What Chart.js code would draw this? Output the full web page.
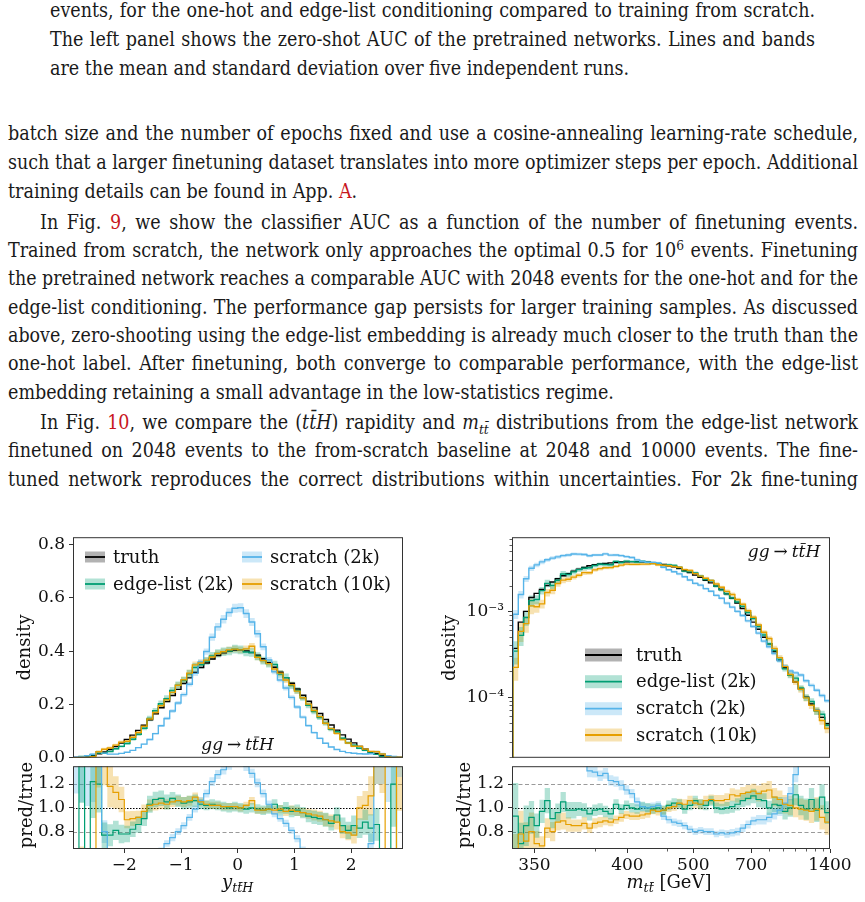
<!DOCTYPE html>
<html><head><meta charset="utf-8">
<script src="https://cdn.jsdelivr.net/npm/chart.js@4.4.1/dist/chart.umd.min.js"></script>
<style>
html,body{margin:0;padding:0;background:#fff;}
body{width:865px;height:902px;overflow:hidden;position:relative;}
.ln{position:absolute;white-space:nowrap;font-family:'DejaVu Serif Condensed','DejaVu Serif',serif;font-stretch:condensed;font-size:19.5px;line-height:28px;color:#1a1a1a;}
.ln span.t{display:inline-block;transform-origin:0 50%;}
.r{color:#c8161d;}
sup{font-size:0.7em;line-height:0;vertical-align:0.5em;}
sub{font-size:0.7em;line-height:0;vertical-align:-0.35em;}
canvas{position:absolute;}
</style></head><body>

<div class="ln j" data-w="765" style="left:50px;top:-3px"><span class="t">events, for the one-hot and edge-list conditioning compared to training from scratch.</span></div>
<div class="ln j" data-w="765" style="left:50px;top:26px"><span class="t">The left panel shows the zero-shot AUC of the pretrained networks. Lines and bands</span></div>
<div class="ln" data-w="765" style="left:50px;top:55px"><span class="t">are the mean and standard deviation over five independent runs.</span></div>

<div class="ln j" data-w="850" style="left:8px;top:120px"><span class="t">batch size and the number of epochs fixed and use a cosine-annealing learning-rate schedule,</span></div>
<div class="ln j" data-w="850" style="left:8px;top:149px"><span class="t">such that a larger finetuning dataset translates into more optimizer steps per epoch. Additional</span></div>
<div class="ln" data-w="850" style="left:8px;top:178px"><span class="t">training details can be found in App. <span class="r">A</span>.</span></div>
<div class="ln j" data-w="818" style="left:40px;top:209px"><span class="t">In Fig. <span class="r">9</span>, we show the classifier AUC as a function of the number of finetuning events.</span></div>
<div class="ln j" data-w="850" style="left:8px;top:237px"><span class="t">Trained from scratch, the network only approaches the optimal 0.5 for 10<sup>6</sup> events. Finetuning</span></div>
<div class="ln j" data-w="850" style="left:8px;top:265px"><span class="t">the pretrained network reaches a comparable AUC with 2048 events for the one-hot and for the</span></div>
<div class="ln j" data-w="850" style="left:8px;top:294px"><span class="t">edge-list conditioning. The performance gap persists for larger training samples. As discussed</span></div>
<div class="ln j" data-w="850" style="left:8px;top:322px"><span class="t">above, zero-shooting using the edge-list embedding is already much closer to the truth than the</span></div>
<div class="ln j" data-w="850" style="left:8px;top:350px"><span class="t">one-hot label. After finetuning, both converge to comparable performance, with the edge-list</span></div>
<div class="ln" data-w="850" style="left:8px;top:379px"><span class="t">embedding retaining a small advantage in the low-statistics regime.</span></div>
<div class="ln j" data-w="818" style="left:40px;top:409px"><span class="t">In Fig. <span class="r">10</span>, we compare the (<i>t</i><i>t̄</i><i>H</i>) rapidity and <i>m</i><sub><i>tt̄</i></sub> distributions from the edge-list network</span></div>
<div class="ln j" data-w="850" style="left:8px;top:437px"><span class="t">finetuned on 2048 events to the from-scratch baseline at 2048 and 10000 events. The fine-</span></div>
<div class="ln j" data-w="850" style="left:8px;top:466px"><span class="t">tuned network reproduces the correct distributions within uncertainties. For 2k fine-tuning</span></div>

<canvas id="cLM" width="423" height="249" style="left:0px;top:523px"></canvas>
<canvas id="cLR" width="423" height="150" style="left:0px;top:752px"></canvas>
<canvas id="cRM" width="425" height="249" style="left:430px;top:523px"></canvas>
<canvas id="cRR" width="425" height="150" style="left:430px;top:752px"></canvas>

<script>
// ================= DATA =================
// Left panel: rapidity y_ttH, 58 bins of width 0.1 from -2.9 to 2.9
const rapEdgeLo = -2.9, rapEdgeHi = 2.9, rapBins = 58;
const rapTruth = [0.0012,0.003,0.0055,0.0095,0.015,0.022,0.031,0.042,0.055,0.069,
  0.085,0.103,0.122,0.143,0.165,0.188,0.211,0.234,0.257,0.279,
  0.300,0.320,0.339,0.356,0.371,0.384,0.394,0.401,0.404,0.405,
  0.401,0.395,0.385,0.372,0.357,0.340,0.321,0.301,0.280,0.258,
  0.235,0.212,0.189,0.166,0.144,0.123,0.104,0.086,0.070,0.056,
  0.043,0.032,0.022,0.015,0.0095,0.0055,0.003,0.0012];
// pred/true ratios
const rapRatioEdge = [0.40,1.60,0.50,1.22,1.20,0.77,0.77,0.81,0.78,0.78,
  0.82,0.86,0.91,1.03,1.07,1.08,1.05,1.08,1.06,1.04,
  1.05,1.06,1.03,1.02,1.03,1.02,1.01,1.00,1.01,1.00,
  0.99,1.00,0.99,0.98,0.99,1.03,0.98,1.00,0.97,0.98,
  0.96,0.93,0.92,0.91,0.90,0.87,0.94,0.85,0.81,0.85,
  0.83,0.88,0.83,0.86,0.50,0.40,1.20,0.40];
const rapRatioS2k = [1.60,1.50,1.45,1.40,1.50,0.80,0.45,0.33,0.30,0.30,
  0.33,0.37,0.42,0.48,0.55,0.64,0.70,0.75,0.80,0.85,
  0.92,0.99,1.06,1.12,1.22,1.28,1.32,1.36,1.39,1.39,
  1.35,1.29,1.21,1.12,1.03,0.95,0.91,0.87,0.81,0.74,
  0.65,0.57,0.50,0.44,0.38,0.33,0.30,0.28,0.28,0.30,
  0.35,0.45,0.70,1.50,1.60,1.50,1.70,1.80];
const rapRatioS10k = [0.40,0.50,0.30,0.40,1.50,1.45,1.18,1.13,1.07,0.90,
  0.91,0.92,0.97,1.02,1.03,1.04,1.03,1.05,1.06,1.05,
  1.06,1.09,1.05,1.03,1.02,1.02,1.01,1.01,1.01,1.00,
  1.02,1.06,0.98,0.98,0.99,0.98,0.99,0.97,0.98,0.97,
  0.96,0.95,0.94,0.93,0.90,0.89,0.88,0.80,0.79,0.77,
  1.00,1.02,1.10,1.50,1.50,0.50,0.30,1.50];
// relative std-dev bands
const rapErrEdge = [0.35,0.35,0.3,0.25,0.2,0.14,0.12,0.1,0.1,0.09,
  0.08,0.08,0.07,0.07,0.06,0.06,0.06,0.05,0.05,0.05,
  0.05,0.05,0.04,0.04,0.04,0.04,0.04,0.04,0.04,0.04,
  0.04,0.04,0.04,0.04,0.04,0.04,0.045,0.05,0.05,0.05,
  0.05,0.055,0.06,0.06,0.065,0.07,0.07,0.08,0.09,0.1,
  0.1,0.12,0.14,0.16,0.2,0.25,0.3,0.35];
const rapErrS2k = [0.3,0.3,0.3,0.25,0.2,0.12,0.1,0.08,0.07,0.06,
  0.06,0.05,0.05,0.05,0.04,0.04,0.04,0.04,0.035,0.035,
  0.03,0.03,0.03,0.03,0.03,0.03,0.03,0.03,0.03,0.03,
  0.03,0.03,0.03,0.03,0.03,0.03,0.03,0.035,0.035,0.04,
  0.04,0.04,0.045,0.05,0.05,0.05,0.06,0.06,0.07,0.08,
  0.08,0.1,0.12,0.2,0.25,0.3,0.3,0.3];
const rapErrS10k = [0.35,0.35,0.3,0.25,0.22,0.18,0.15,0.12,0.1,0.08,
  0.07,0.06,0.06,0.05,0.05,0.05,0.04,0.04,0.04,0.04,
  0.04,0.035,0.035,0.03,0.03,0.03,0.03,0.03,0.03,0.03,
  0.03,0.03,0.03,0.03,0.03,0.035,0.035,0.04,0.04,0.04,
  0.04,0.045,0.05,0.05,0.06,0.06,0.07,0.07,0.08,0.09,
  0.1,0.12,0.15,0.2,0.25,0.3,0.35,0.35];

// Right panel: m_tt [GeV], 60 bins (uniform along the axis) from 345 to 1400 GeV
const mttLo = 345, mttHi = 1400, mttBins = 60;
const mttTruth = [3.7e-4,7.5e-4,1.0e-3,1.45e-3,1.62e-3,1.8e-3,2.0e-3,2.2e-3,2.4e-3,2.6e-3,
  2.75e-3,2.95e-3,3.1e-3,3.25e-3,3.4e-3,3.5e-3,3.58e-3,3.63e-3,3.68e-3,3.72e-3,
  3.76e-3,3.78e-3,3.8e-3,3.8e-3,3.78e-3,3.74e-3,3.68e-3,3.6e-3,3.52e-3,3.4e-3,
  3.3e-3,3.15e-3,2.98e-3,2.83e-3,2.65e-3,2.5e-3,2.3e-3,2.15e-3,1.97e-3,1.8e-3,
  1.6e-3,1.42e-3,1.25e-3,1.08e-3,9.0e-4,7.5e-4,6.2e-4,5.0e-4,4.2e-4,3.4e-4,
  2.7e-4,2.2e-4,1.8e-4,1.5e-4,1.25e-4,1.0e-4,8.3e-5,7.0e-5,5.8e-5,4.9e-5];
const mttRatioEdge = [0.93,0.70,0.85,0.92,0.85,0.97,1.06,0.91,0.96,1.05,
  0.98,0.98,0.99,0.98,0.95,0.98,0.99,0.97,0.95,1.03,
  0.99,1.02,1.00,0.99,1.01,1.00,0.99,1.00,0.98,1.02,
  1.04,1.03,0.99,1.02,1.06,1.03,1.02,1.06,1.00,0.99,
  1.00,1.01,1.03,1.06,1.08,1.10,1.07,1.06,1.00,1.03,
  1.02,0.97,1.00,1.11,1.02,0.99,1.07,0.98,1.09,0.96];
const mttRatioS2k = [2.5,2.1,2.4,2.2,2.15,2.1,2.0,1.9,1.8,1.72,
  1.65,1.58,1.5,1.42,1.31,1.30,1.27,1.29,1.23,1.22,
  1.19,1.15,1.12,1.05,1.01,1.00,1.01,1.02,0.93,0.90,
  0.88,0.87,0.85,0.82,0.80,0.81,0.80,0.80,0.78,0.79,
  0.78,0.79,0.80,0.83,0.86,0.89,0.90,0.90,0.92,0.95,
  0.98,1.04,1.12,1.28,1.45,1.55,1.65,1.72,1.80,1.85];
const mttRatioS10k = [0.60,0.78,0.72,0.80,0.70,0.68,0.83,0.80,0.88,0.89,
  0.86,0.85,0.85,0.87,0.83,0.87,0.88,0.89,0.88,0.90,
  0.92,0.94,0.93,0.93,0.94,0.95,0.98,0.97,0.98,1.00,
  1.01,1.04,1.03,1.06,1.04,1.03,1.06,1.07,1.06,1.06,
  1.07,1.11,1.10,1.12,1.13,1.14,1.12,1.14,1.15,1.09,
  1.07,1.03,1.02,1.00,0.99,0.98,0.97,0.99,0.92,0.88];
const mttErrEdge = [0.3,0.25,0.2,0.15,0.12,0.1,0.1,0.09,0.08,0.08,
  0.07,0.07,0.06,0.06,0.06,0.05,0.05,0.05,0.05,0.04,
  0.04,0.04,0.04,0.04,0.04,0.04,0.04,0.04,0.04,0.04,
  0.04,0.04,0.04,0.04,0.04,0.04,0.04,0.04,0.045,0.045,
  0.05,0.05,0.05,0.05,0.055,0.055,0.06,0.06,0.06,0.065,
  0.07,0.07,0.075,0.08,0.08,0.09,0.09,0.1,0.1,0.1];
const mttErrS2k = [0.12,0.1,0.08,0.07,0.06,0.06,0.05,0.05,0.05,0.045,
  0.045,0.04,0.04,0.04,0.04,0.035,0.035,0.035,0.035,0.035,
  0.035,0.035,0.035,0.035,0.035,0.035,0.035,0.035,0.035,0.035,
  0.035,0.035,0.035,0.035,0.035,0.035,0.035,0.035,0.035,0.035,
  0.04,0.04,0.04,0.04,0.04,0.04,0.045,0.045,0.045,0.05,
  0.05,0.05,0.05,0.05,0.05,0.05,0.05,0.05,0.05,0.05];
const mttErrS10k = [0.3,0.25,0.22,0.2,0.15,0.12,0.1,0.1,0.08,0.08,
  0.07,0.06,0.06,0.06,0.05,0.05,0.05,0.04,0.04,0.04,
  0.04,0.035,0.035,0.035,0.035,0.035,0.035,0.035,0.035,0.035,
  0.035,0.035,0.04,0.04,0.04,0.04,0.04,0.04,0.045,0.045,
  0.05,0.05,0.05,0.05,0.055,0.055,0.06,0.06,0.065,0.07,
  0.07,0.075,0.08,0.08,0.09,0.09,0.1,0.1,0.11,0.12];

// Ticks and labels
const rapXTicks = [-2,-1,0,1,2];
const rapXTickLabels = ['\u22122','\u22121','0','1','2'];
const densYTicks = [0,0.2,0.4,0.6,0.8];
const densYTickLabels = ['0.0','0.2','0.4','0.6','0.8'];
const ratioYTicks = [0.8,1.0,1.2];
const ratioYTickLabels = ['0.8','1.0','1.2'];
const ratioRefLines = [0.8,1.0,1.2];
const mttXTicks = [350,400,500,700,1400];
const mttXTickLabels = ['350','400','500','700','1400'];
const mttXMinorTicks = [375,450,600,800,900,1000,1100,1200,1300];
const mttYTicks = [1e-4,1e-3];
const mttYTickLabels = ['10\u207B\u2074','10\u207B\u00B3'];
const mttYMinorTicks = [2e-5,3e-5,4e-5,5e-5,6e-5,7e-5,8e-5,9e-5,2e-4,3e-4,4e-4,5e-4,6e-4,7e-4,8e-4,9e-4,2e-3,3e-3,4e-3,5e-3,6e-3,7e-3];
const seriesNames = ['truth','edge-list (2k)','scratch (2k)','scratch (10k)'];

// ================= STYLE =================
const TEXT = '#111', AX = '#333';
const LINE = ['#000000','#009E73','#56B4E9','#E69F00'];
const BAND = ['rgba(0,0,0,0.3)','rgba(0,158,115,0.3)','rgba(86,180,233,0.3)','rgba(230,159,0,0.3)'];
const FONT = "'DejaVu Serif', serif";
Chart.defaults.font.family = FONT;
Chart.defaults.font.size = 17;
Chart.defaults.color = TEXT;

// axis transform for m_tt (compressed log-like axis)
const mttAxisOffset = 330;
const mttToAxis = m => Math.log10(m - mttAxisOffset);

function makeEdges(lo, hi, n){ const e=[]; for(let i=0;i<=n;i++) e.push(lo+(hi-lo)*i/n); return e; }
const rapEdges = makeEdges(rapEdgeLo, rapEdgeHi, rapBins);
const mttEdges = makeEdges(mttToAxis(mttLo), mttToAxis(mttHi), mttBins);

function stepPoints(edges, vals, base){
  const p=[];
  if (base!==undefined) p.push({x:edges[0], y:base});
  for(let i=0;i<vals.length;i++) p.push({x:edges[i], y:vals[i]});
  p.push({x:edges[vals.length], y:vals[vals.length-1]});
  if (base!==undefined) p.push({x:edges[vals.length], y:base});
  return p;
}
function lineSet(edges, vals, color, width, order, base){
  return {data:stepPoints(edges, vals, base), borderColor:color, borderWidth:width, pointRadius:0, pointHoverRadius:0, stepped:'before', fill:false, order:order, clip:0};
}
function bandSets(edges, lo, hi, color){
  return [
    {data:stepPoints(edges, hi), borderColor:'rgba(0,0,0,0)', borderWidth:0, pointRadius:0, stepped:'before', fill:'+1', backgroundColor:color, order:10, clip:0},
    {data:stepPoints(edges, lo), borderColor:'rgba(0,0,0,0)', borderWidth:0, pointRadius:0, stepped:'before', fill:false, order:10, clip:0}
  ];
}
const mul = (a,b) => a.map((v,i)=>v*b[i]);
const scaleBand = (v,e,s) => v.map((x,i)=>x*(1+s*e[i]));

// ================= DRAW HELPERS =================
function drawParts(ctx, parts, x, y, align){
  let w=0;
  parts.forEach(p=>{ if(p.gap!==undefined){p.w=p.gap;} else {ctx.font=p.f; p.w=ctx.measureText(p.t).width;} w+=p.w; });
  let cx = align==='center' ? x-w/2 : (align==='right' ? x-w : x);
  ctx.save(); ctx.fillStyle=TEXT; ctx.strokeStyle=TEXT; ctx.textAlign='left'; ctx.textBaseline='alphabetic';
  parts.forEach(p=>{
    if(p.gap===undefined){
      ctx.font=p.f; const yy=y+(p.dy||0);
      ctx.fillText(p.t, cx, yy);
      if(p.bar){ ctx.beginPath(); ctx.lineWidth=0.9; ctx.moveTo(cx+p.w*0.3, yy-p.bar); ctx.lineTo(cx+p.w*1.05, yy-p.bar); ctx.stroke(); }
    }
    cx+=p.w;
  });
  ctx.restore();
}
function vText(ctx, t, x, y){
  ctx.save(); ctx.translate(x,y); ctx.rotate(-Math.PI/2);
  ctx.font="18px "+FONT; ctx.fillStyle=TEXT; ctx.textAlign='center'; ctx.textBaseline='middle';
  ctx.fillText(t,0,0); ctx.restore();
}
function drawLegend(ctx, idx, x0, x1, ys, tx, bh){
  ctx.save();
  idx.forEach((k,i)=>{
    const y=ys[i];
    ctx.fillStyle=BAND[k]; ctx.fillRect(x0, y-bh/2, x1-x0, bh);
    ctx.strokeStyle=LINE[k]; ctx.lineWidth=1.8; ctx.beginPath(); ctx.moveTo(x0,y); ctx.lineTo(x1,y); ctx.stroke();
    ctx.fillStyle=TEXT; ctx.font="18px "+FONT; ctx.textAlign='left'; ctx.textBaseline='middle';
    ctx.fillText(seriesNames[k], tx, y+1);
  });
  ctx.restore();
}
function ggttH(ctx, cx, y){
  const it="italic 17px "+FONT, up="17px "+FONT;
  drawParts(ctx,[{t:'gg',f:it},{gap:4},{t:'\u2192',f:up},{gap:4},{t:'t',f:it},{t:'t',f:it,bar:13},{t:'H',f:it}], cx, y, 'center');
}
function decoPlugin(cfg){
  return {
    id:'deco',
    beforeDatasetsDraw(chart){
      if(!cfg.refs) return;
      const ctx=chart.ctx, a=chart.chartArea, ys=chart.scales.y;
      ctx.save(); ctx.beginPath(); ctx.rect(a.left,a.top,a.width,a.height); ctx.clip();
      ratioRefLines.forEach(v=>{
        const y=Math.round(ys.getPixelForValue(v))+0.5;
        ctx.beginPath();
        if(v===1.0){ ctx.strokeStyle='#000'; ctx.setLineDash([1.5,1.5]); ctx.lineWidth=1; }
        else { ctx.strokeStyle='#9a9a9a'; ctx.setLineDash([4,2.5]); ctx.lineWidth=1; }
        ctx.moveTo(a.left,y); ctx.lineTo(a.right,y); ctx.stroke();
      });
      ctx.restore();
    },
    afterDatasetsDraw(chart){
      const ctx=chart.ctx, a=chart.chartArea;
      ctx.save(); ctx.strokeStyle=AX; ctx.lineWidth=1; ctx.setLineDash([]);
      ctx.strokeRect(a.left+0.5, a.top+0.5, a.width-1, a.height-1);
      ctx.restore();
    },
    afterDraw(chart){
      const ctx=chart.ctx, a=chart.chartArea;
      ctx.save(); ctx.strokeStyle=AX; ctx.lineWidth=0.8;
      if(cfg.minorX){ cfg.minorX.forEach(m=>{ const x=Math.round(chart.scales.x.getPixelForValue(mttToAxis(m)))+0.5; ctx.beginPath(); ctx.moveTo(x,a.bottom); ctx.lineTo(x,a.bottom+2.5); ctx.stroke(); }); }
      if(cfg.minorY){ cfg.minorY.forEach(v=>{ const y=Math.round(chart.scales.y.getPixelForValue(v))+0.5; ctx.beginPath(); ctx.moveTo(a.left-2.5,y); ctx.lineTo(a.left,y); ctx.stroke(); }); }
      ctx.restore();
      if(cfg.draw) cfg.draw(ctx, chart);
    }
  };
}
function yAxis(opts){
  return Object.assign({
    bounds:'data',
    grid:{display:true, drawOnChartArea:false, drawTicks:true, tickLength:4, tickColor:AX, tickWidth:1},
    border:{display:false},
  }, opts);
}
const baseOptions = (pad) => ({
  responsive:false, maintainAspectRatio:false, animation:false, devicePixelRatio:1, events:[],
  layout:{autoPadding:false, padding:pad},
  plugins:{legend:{display:false}, tooltip:{enabled:false}}
});

// ================= LEFT MAIN =================
{
  const eV = mul(rapTruth, rapRatioEdge), bV = mul(rapTruth, rapRatioS2k), oV = mul(rapTruth, rapRatioS10k);
  const ds = [
    ...bandSets(rapEdges, scaleBand(eV,rapErrEdge,-1), scaleBand(eV,rapErrEdge,1), BAND[1]),
    ...bandSets(rapEdges, scaleBand(bV,rapErrS2k,-1), scaleBand(bV,rapErrS2k,1), BAND[2]),
    ...bandSets(rapEdges, scaleBand(oV,rapErrS10k,-1), scaleBand(oV,rapErrS10k,1), BAND[3]),
    lineSet(rapEdges, rapTruth, LINE[0], 1.4, 4, 0),
    lineSet(rapEdges, eV, LINE[1], 1.4, 3, 0),
    lineSet(rapEdges, bV, LINE[2], 1.4, 2, 0),
    lineSet(rapEdges, oV, LINE[3], 1.4, 1, 0)
  ];
  const o = baseOptions({top:10,right:20,bottom:10,left:0});
  o.scales = {
    x:{type:'linear', display:false, bounds:'data', min:-2.905, max:2.915},
    y:yAxis({type:'linear', min:0, max:0.828,
      afterFit:s=>{s.width=73;},
      afterBuildTicks:s=>{s.ticks=densYTicks.map(v=>({value:v}));},
      ticks:{callback:(v,i)=>densYTickLabels[i], autoSkip:false, padding:4, color:TEXT, font:{size:17}}})
  };
  new Chart(document.getElementById('cLM'), {type:'line', data:{datasets:ds}, options:o,
    plugins:[decoPlugin({draw:(ctx)=>{
      vText(ctx,'density',25,124.5);
      drawLegend(ctx,[0,1],85,105,[34,61],113,11);
      drawLegend(ctx,[2,3],242,262,[34,61],270,11);
      ggttH(ctx,237.5,227);
    }})]});
}
// ================= LEFT RATIO =================
{
  const ds = [
    ...bandSets(rapEdges, scaleBand(rapRatioEdge,rapErrEdge,-1), scaleBand(rapRatioEdge,rapErrEdge,1), BAND[1]),
    ...bandSets(rapEdges, scaleBand(rapRatioS2k,rapErrS2k,-1), scaleBand(rapRatioS2k,rapErrS2k,1), BAND[2]),
    ...bandSets(rapEdges, scaleBand(rapRatioS10k,rapErrS10k,-1), scaleBand(rapRatioS10k,rapErrS10k,1), BAND[3]),
    lineSet(rapEdges, rapRatioEdge, LINE[1], 1.2, 3),
    lineSet(rapEdges, rapRatioS2k, LINE[2], 1.2, 2),
    lineSet(rapEdges, rapRatioS10k, LINE[3], 1.2, 1)
  ];
  const o = baseOptions({top:10,right:20,bottom:0,left:0});
  o.scales = {
    x:yAxis({type:'linear', min:-2.905, max:2.915, position:'bottom',
      afterFit:s=>{s.height=53;},
      afterBuildTicks:s=>{s.ticks=rapXTicks.map(v=>({value:v}));},
      ticks:{callback:(v,i)=>rapXTickLabels[i], autoSkip:false, maxRotation:0, minRotation:0, padding:2, color:TEXT, font:{size:17}}}),
    y:yAxis({type:'linear', min:0.654, max:1.35,
      afterFit:s=>{s.width=73;},
      afterBuildTicks:s=>{s.ticks=ratioYTicks.map(v=>({value:v}));},
      ticks:{callback:(v,i)=>ratioYTickLabels[i], autoSkip:false, padding:4, color:TEXT, font:{size:17}}})
  };
  new Chart(document.getElementById('cLR'), {type:'line', data:{datasets:ds}, options:o,
    plugins:[decoPlugin({refs:true, draw:(ctx)=>{
      vText(ctx,'pred/true',27.5,53);
      const it="italic 18px "+FONT, sb="italic 12.6px "+FONT;
      drawParts(ctx,[{t:'y',f:it},{t:'t',f:sb,dy:4},{t:'t',f:sb,dy:4,bar:9.5},{t:'H',f:sb,dy:4}],237.7,136,'center');
    }})]});
}
// ================= RIGHT MAIN =================
{
  const eV = mul(mttTruth, mttRatioEdge), bV = mul(mttTruth, mttRatioS2k), oV = mul(mttTruth, mttRatioS10k);
  const base = 1e-7;
  const ds = [
    ...bandSets(mttEdges, scaleBand(eV,mttErrEdge,-1), scaleBand(eV,mttErrEdge,1), BAND[1]),
    ...bandSets(mttEdges, scaleBand(bV,mttErrS2k,-1), scaleBand(bV,mttErrS2k,1), BAND[2]),
    ...bandSets(mttEdges, scaleBand(oV,mttErrS10k,-1), scaleBand(oV,mttErrS10k,1), BAND[3]),
    lineSet(mttEdges, mttTruth, LINE[0], 1.4, 4, base),
    lineSet(mttEdges, eV, LINE[1], 1.4, 3, base),
    lineSet(mttEdges, bV, LINE[2], 1.4, 2, base),
    lineSet(mttEdges, oV, LINE[3], 1.4, 1, base)
  ];
  const o = baseOptions({top:10,right:25,bottom:10,left:0});
  o.scales = {
    x:{type:'linear', display:false, bounds:'data', min:mttToAxis(344.8), max:mttToAxis(1400)},
    y:yAxis({type:'logarithmic', min:1.96e-5, max:7.33e-3,
      afterFit:s=>{s.width=82;},
      afterBuildTicks:s=>{s.ticks=mttYTicks.map(v=>({value:v}));},
      ticks:{callback:(v,i)=>mttYTickLabels[i], autoSkip:false, padding:4, color:TEXT, font:{size:17}}})
  };
  new Chart(document.getElementById('cRM'), {type:'line', data:{datasets:ds}, options:o,
    plugins:[decoPlugin({minorY:mttYMinorTicks, draw:(ctx)=>{
      vText(ctx,'density',20.5,125);
      drawLegend(ctx,[0,1,2,3],155,192,[132,158.7,185.7,212],206,13);
      ggttH(ctx,354,33.5);
    }})]});
}
// ================= RIGHT RATIO =================
{
  const ds = [
    ...bandSets(mttEdges, scaleBand(mttRatioEdge,mttErrEdge,-1), scaleBand(mttRatioEdge,mttErrEdge,1), BAND[1]),
    ...bandSets(mttEdges, scaleBand(mttRatioS2k,mttErrS2k,-1), scaleBand(mttRatioS2k,mttErrS2k,1), BAND[2]),
    ...bandSets(mttEdges, scaleBand(mttRatioS10k,mttErrS10k,-1), scaleBand(mttRatioS10k,mttErrS10k,1), BAND[3]),
    lineSet(mttEdges, mttRatioEdge, LINE[1], 1.2, 3),
    lineSet(mttEdges, mttRatioS2k, LINE[2], 1.2, 2),
    lineSet(mttEdges, mttRatioS10k, LINE[3], 1.2, 1)
  ];
  const o = baseOptions({top:10,right:25,bottom:0,left:0});
  o.scales = {
    x:yAxis({type:'linear', min:mttToAxis(344.8), max:mttToAxis(1400), position:'bottom',
      afterFit:s=>{s.height=53;},
      afterBuildTicks:s=>{s.ticks=mttXTicks.map(m=>({value:mttToAxis(m)}));},
      ticks:{callback:(v,i)=>mttXTickLabels[i], autoSkip:false, maxRotation:0, minRotation:0, padding:2, color:TEXT, font:{size:17}}}),
    y:yAxis({type:'linear', min:0.654, max:1.35,
      afterFit:s=>{s.width=82;},
      afterBuildTicks:s=>{s.ticks=ratioYTicks.map(v=>({value:v}));},
      ticks:{callback:(v,i)=>ratioYTickLabels[i], autoSkip:false, padding:4, color:TEXT, font:{size:17}}})
  };
  new Chart(document.getElementById('cRR'), {type:'line', data:{datasets:ds}, options:o,
    plugins:[decoPlugin({refs:true, minorX:mttXMinorTicks, draw:(ctx)=>{
      vText(ctx,'pred/true',35.5,53);
      const it="italic 18px "+FONT, sb="italic 12.6px "+FONT, up="18px "+FONT;
      drawParts(ctx,[{t:'m',f:it},{t:'t',f:sb,dy:4},{t:'t',f:sb,dy:4,bar:9.5},{t:' [GeV]',f:up}],239,136,'center');
    }})]});
}

// ================= TEXT LINE FITTING =================
document.querySelectorAll('.ln').forEach(el=>{
  const sp=el.firstElementChild, W=+el.dataset.w;
  const w=sp.getBoundingClientRect().width;
  if(w>W){ sp.style.transform='scaleX('+(W/w)+')'; }
  else if(el.classList.contains('j')){
    const n=(sp.textContent.match(/ /g)||[]).length;
    if(n) sp.style.wordSpacing=((W-w)/n)+'px';
  }
});
</script>
</body></html>
